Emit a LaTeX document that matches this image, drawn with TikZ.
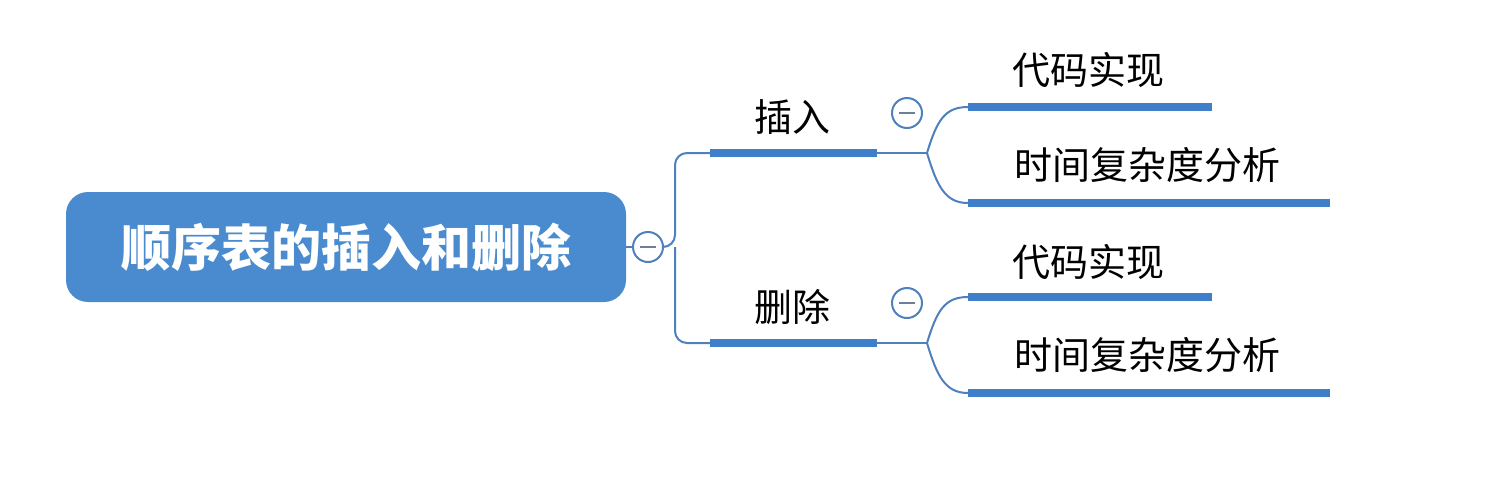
\documentclass[tikz,border=0pt]{standalone}
\usepackage{fontspec}
\newfontfamily\cjk{Noto Sans CJK SC}
\definecolor{rootblue}{HTML}{4A8BCF}
\definecolor{linkblue}{HTML}{4F80BD}
\definecolor{barblue}{HTML}{3F7EC9}
\definecolor{knobgray}{HTML}{6F8096}
\tikzset{
  rootbox/.style={rounded corners=11pt, fill=rootblue, text=white,
    minimum width=280pt, minimum height=55pt, font=\cjk\bfseries\fontsize{25}{25}\selectfont},
  knob/.style={circle, draw=linkblue, line width=1pt, fill=white, minimum size=15pt, inner sep=0pt,
    path picture={\draw[knobgray, line width=1pt] ([xshift=-4pt]path picture bounding box.center) -- ([xshift=4pt]path picture bounding box.center);}},
  lbl/.style={text=black, font=\cjk\fontsize{19}{19}\selectfont, inner sep=0pt},
  thin/.style={draw=linkblue, line width=1pt},
  bar/.style={draw=barblue, line width=4pt}
}
\begin{document}
\begin{tikzpicture}[x=0.5pt,y=-0.5pt]
\useasboundingbox (0,0) rectangle (1488,478);

\node (root) at (346,247) [rootbox] {顺序表的插入和删除};
\node (k0) at (648,247) [knob] {};
\draw[thin] (root.east) -- (k0.west);

% branch 插入
\coordinate (ia) at (710,153);
\coordinate (ib) at (877,153);
\coordinate (if) at (927,153);
\node (ins) at (792,117) [lbl] {插入};
\node (k1) at (907,113) [knob] {};
\coordinate (i1a) at (968,107);
\coordinate (i1b) at (1212,107);
\coordinate (i2a) at (968,203);
\coordinate (i2b) at (1330,203);
\node (i1) at (1088,70) [lbl] {代码实现};
\node (i2) at (1147,165) [lbl] {时间复杂度分析};

% branch 删除
\coordinate (da) at (710,343);
\coordinate (db) at (877,343);
\coordinate (df) at (927,343);
\node (del) at (792,307) [lbl] {删除};
\node (k2) at (907,303) [knob] {};
\coordinate (d1a) at (968,297);
\coordinate (d1b) at (1212,297);
\coordinate (d2a) at (968,393);
\coordinate (d2b) at (1330,393);
\node (d1) at (1088,262) [lbl] {代码实现};
\node (d2) at (1147,355) [lbl] {时间复杂度分析};

% trunk
\draw[thin, rounded corners=6pt] (k0.east) -- (675,247) -- (675,153) -- (ia);
\draw[thin, rounded corners=6pt] (675,247) -- (675,343) -- (da);
\draw[thin] (ib) -- (if);
\draw[thin] (db) -- (df);
\draw[bar] (ia) -- (ib);
\draw[bar] (da) -- (db);

% forks
\draw[thin] (if) .. controls (937,120) and (945,107) .. (i1a);
\draw[thin] (if) .. controls (937,186) and (945,203) .. (i2a);
\draw[thin] (df) .. controls (937,310) and (945,297) .. (d1a);
\draw[thin] (df) .. controls (937,376) and (945,393) .. (d2a);
\draw[bar] (i1a) -- (i1b);
\draw[bar] (i2a) -- (i2b);
\draw[bar] (d1a) -- (d1b);
\draw[bar] (d2a) -- (d2b);
\end{tikzpicture}
\end{document}
